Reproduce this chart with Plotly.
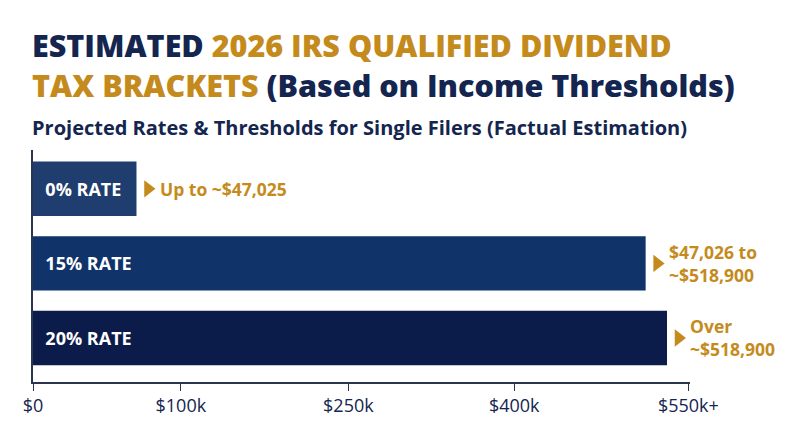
import plotly.graph_objects as go

# bar lengths in axis units (tick scale below)
brackets = ["  0% RATE", "  15% RATE", "  20% RATE"]
bar_len = [0.63, 3.73, 3.86]
bar_colors = ["#1f3d6f", "#10336a", "#0b1c4b"]
notes = ["Up to ~$47,025", "$47,026 to<br>~$518,900", "Over<br>~$518,900"]
tick_pos = [0, 0.9, 1.92, 2.93, 3.99]
tick_text = ["$0", "$100k", "$250k", "$400k", "$550k+"]

NAVY = "#14254f"
GOLD = "#c48b1c"
FONT = "Open Sans"

ypos = [2, 1, 0]

fig = go.Figure()
fig.add_trace(go.Bar(
    x=bar_len, y=ypos, orientation="h", width=0.73,
    marker=dict(color=bar_colors, line_width=0),
    text=brackets, textposition="inside", insidetextanchor="start",
    textfont=dict(color="white", size=18, family=FONT, weight="bold"),
    hoverinfo="skip",
))
fig.add_trace(go.Scatter(
    x=[v + 0.07 for v in bar_len], y=ypos, mode="markers",
    marker=dict(symbol="triangle-right", size=15, color=GOLD),
    hoverinfo="skip",
))
for v, y, t in zip(bar_len, ypos, notes):
    fig.add_annotation(x=v + 0.13, y=y, text=t, showarrow=False,
                       xanchor="left", align="left",
                       font=dict(color=GOLD, size=17.5, family=FONT, weight="bold"))

fig.add_annotation(
    xref="paper", yref="paper", x=-0.004, y=1.0, yshift=128, xanchor="left", yanchor="top",
    showarrow=False, align="left",
    text=("ESTIMATED <span style='color:%s'>2026 IRS QUALIFIED DIVIDEND</span><br>"
          "<span style='color:%s'>TAX BRACKETS</span> (Based on Income Thresholds)") % (GOLD, GOLD),
    font=dict(color=NAVY, size=30.5, family=FONT, weight=800),
)
fig.add_annotation(
    xref="paper", yref="paper", x=-0.004, y=1.0, yshift=38, xanchor="left", yanchor="top",
    showarrow=False,
    text="Projected Rates & Thresholds for Single Filers (Factual Estimation)",
    font=dict(color=NAVY, size=20, family=FONT, weight="bold"),
)

fig.update_layout(
    width=800, height=447, showlegend=False,
    paper_bgcolor="white", plot_bgcolor="white",
    margin=dict(l=25, r=118, t=142, b=73, autoexpand=False),
    xaxis=dict(range=[0, 4], tickvals=tick_pos, ticktext=tick_text, automargin=False,
               showgrid=False, zeroline=False, showline=True, linecolor="#2a3550",
               linewidth=1.5, ticks="outside", ticklen=7, tickcolor="#2a3550",
               tickfont=dict(color=NAVY, size=18, family=FONT)),
    yaxis=dict(range=[-0.59, 2.52], showticklabels=False, showgrid=False, automargin=False,
               zeroline=False, showline=True, linecolor="#2a3550", linewidth=1.5),
)

fig.write_html("out.html")
